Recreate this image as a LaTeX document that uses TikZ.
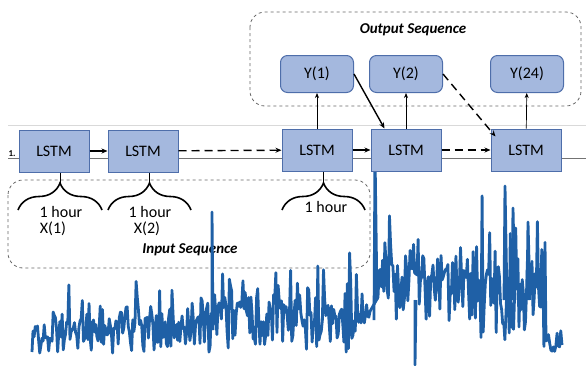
\documentclass[tikz,border=0pt]{standalone}
\usepackage{fontspec}
\setmainfont{Carlito}
\usetikzlibrary{positioning}
\usetikzlibrary{arrows.meta}
\usetikzlibrary{decorations.pathreplacing}

\definecolor{boxfill}{RGB}{164,184,222}
\definecolor{boxline}{RGB}{78,110,170}
\definecolor{seriesblue}{RGB}{31,96,166}

\tikzset{
  lstm/.style={rectangle,draw=boxline,fill=boxfill,line width=1pt,minimum width=70pt,minimum height=42pt,font=\fontsize{16}{19}\selectfont},
  outbox/.style={rectangle,rounded corners=7pt,draw=boxline,fill=boxfill,line width=1pt,minimum width=73pt,minimum height=37pt,font=\fontsize{16}{19}\selectfont},
  seqgroup/.style={draw=black!60,dashed,line width=0.8pt,rounded corners=15pt},
  seqtitle/.style={font=\fontsize{15}{18}\selectfont\bfseries\itshape},
  flow/.style={-{Stealth[length=6pt,width=5pt]},line width=1.4pt},
  dflow/.style={flow,dash pattern=on 8pt off 5pt},
  upflow/.style={-{Stealth[length=5pt,width=4pt]},line width=0.7pt},
  hourbrace/.style={decorate,decoration={brace,amplitude=27pt},line width=1.6pt},
  hourtext/.style={font=\fontsize{16}{19}\selectfont},
  series/.style={seriesblue,line width=2.8pt,line join=round}
}

\begin{document}
\begin{tikzpicture}[x=1pt,y=-1pt]
\useasboundingbox (0,0) rectangle (586,365);

% chart lines behind
\draw[black!15,line width=0.8pt] (8,125) -- (586,125);
\draw[black!55,line width=0.9pt] (8,158) -- (586,158);
\node[font=\fontsize{9}{10}\selectfont\bfseries,inner sep=0pt] (one) at (12,154) {1.};

% groups
\draw[seqgroup] (8,180) rectangle (370,268);
\draw[seqgroup] (250,12) rectangle (581,106);
\node[seqtitle] (intitle) at (190,250) {Input Sequence};
\node[seqtitle] (outtitle) at (413,30) {Output Sequence};

% series
\pgfmathsetseed{11}
\draw[series] (32,352) -- plot[domain=33:200,samples=150] (\x,{334+20*rand-34*rnd^3})
  -- plot[domain=201:370,samples=150] (\x,{326+28*rand-50*rnd^3})
  -- plot[domain=378:480,samples=90] (\x,{292+30*rand-50*rnd^3})
  -- plot[domain=481:545,samples=60] (\x,{310+42*rand-75*rnd^3})
  -- plot[domain=546:562,samples=14] (\x,{342+12*rand});
\draw[series] (212,330) -- (212,212) -- (213,330);
\draw[series] (374,320) -- (375,152) -- (377,300);
\draw[series] (415,300) -- (415,365) -- (416,300);
\draw[series] (504,300) -- (505,186) -- (507,300);
\draw[series] (512,300) -- (513,208) -- (515,300);
\draw[series] (527,300) -- (528,222) -- (530,300);

% cells
\node[lstm] (l1) at (54,151) {LSTM};
\node[lstm] (l2) at (143,151) {LSTM};
\node[lstm] (l3) at (317,150) {LSTM};
\node[lstm] (l4) at (406,150) {LSTM};
\node[lstm] (l5) at (526,150) {LSTM};

\node[outbox] (y1) at (317,74) {Y(1)};
\node[outbox] (y2) at (406,74) {Y(2)};
\node[outbox] (y24) at (527,74) {Y(24)};

% arrows
\draw[flow] (l1) -- (l2);
\draw[dflow] (l2) -- (l3);
\draw[flow] (l3) -- (l4);
\draw[dflow] (l4) -- (l5);
\draw[upflow] (l3) -- (y1);
\draw[upflow] (l4) -- (y2);
\draw[upflow] (l5) -- (y24);
\draw[flow] (y1.east) -- ([xshift=14pt]l4.north west);
\draw[dflow] (y2.east) -- ([xshift=5pt,yshift=-8pt]l5.north west);

% braces
\draw[hourbrace] (18,210) -- (102,210);
\draw[hourbrace] (108,210) -- (191,210);
\draw[hourbrace] (282,210) -- (365,210);
\coordinate (t1) at (60,183);
\coordinate (t2) at (149.5,183);
\coordinate (t3) at (323.5,183);
\draw[line width=0.9pt] (l1.south -| t1) -- (t1);
\draw[line width=0.9pt] (l2.south -| t2) -- (t2);
\draw[line width=0.9pt] (l3.south -| t3) -- (t3);

\node[hourtext] (h1) at (61,212) {1 hour};
\node[hourtext] (x1) at (53,229) {X(1)};
\node[hourtext] (h2) at (150,212) {1 hour};
\node[hourtext] (x2) at (147,229) {X(2)};
\node[hourtext] (h3) at (326,207) {1 hour};

\end{tikzpicture}
\end{document}
